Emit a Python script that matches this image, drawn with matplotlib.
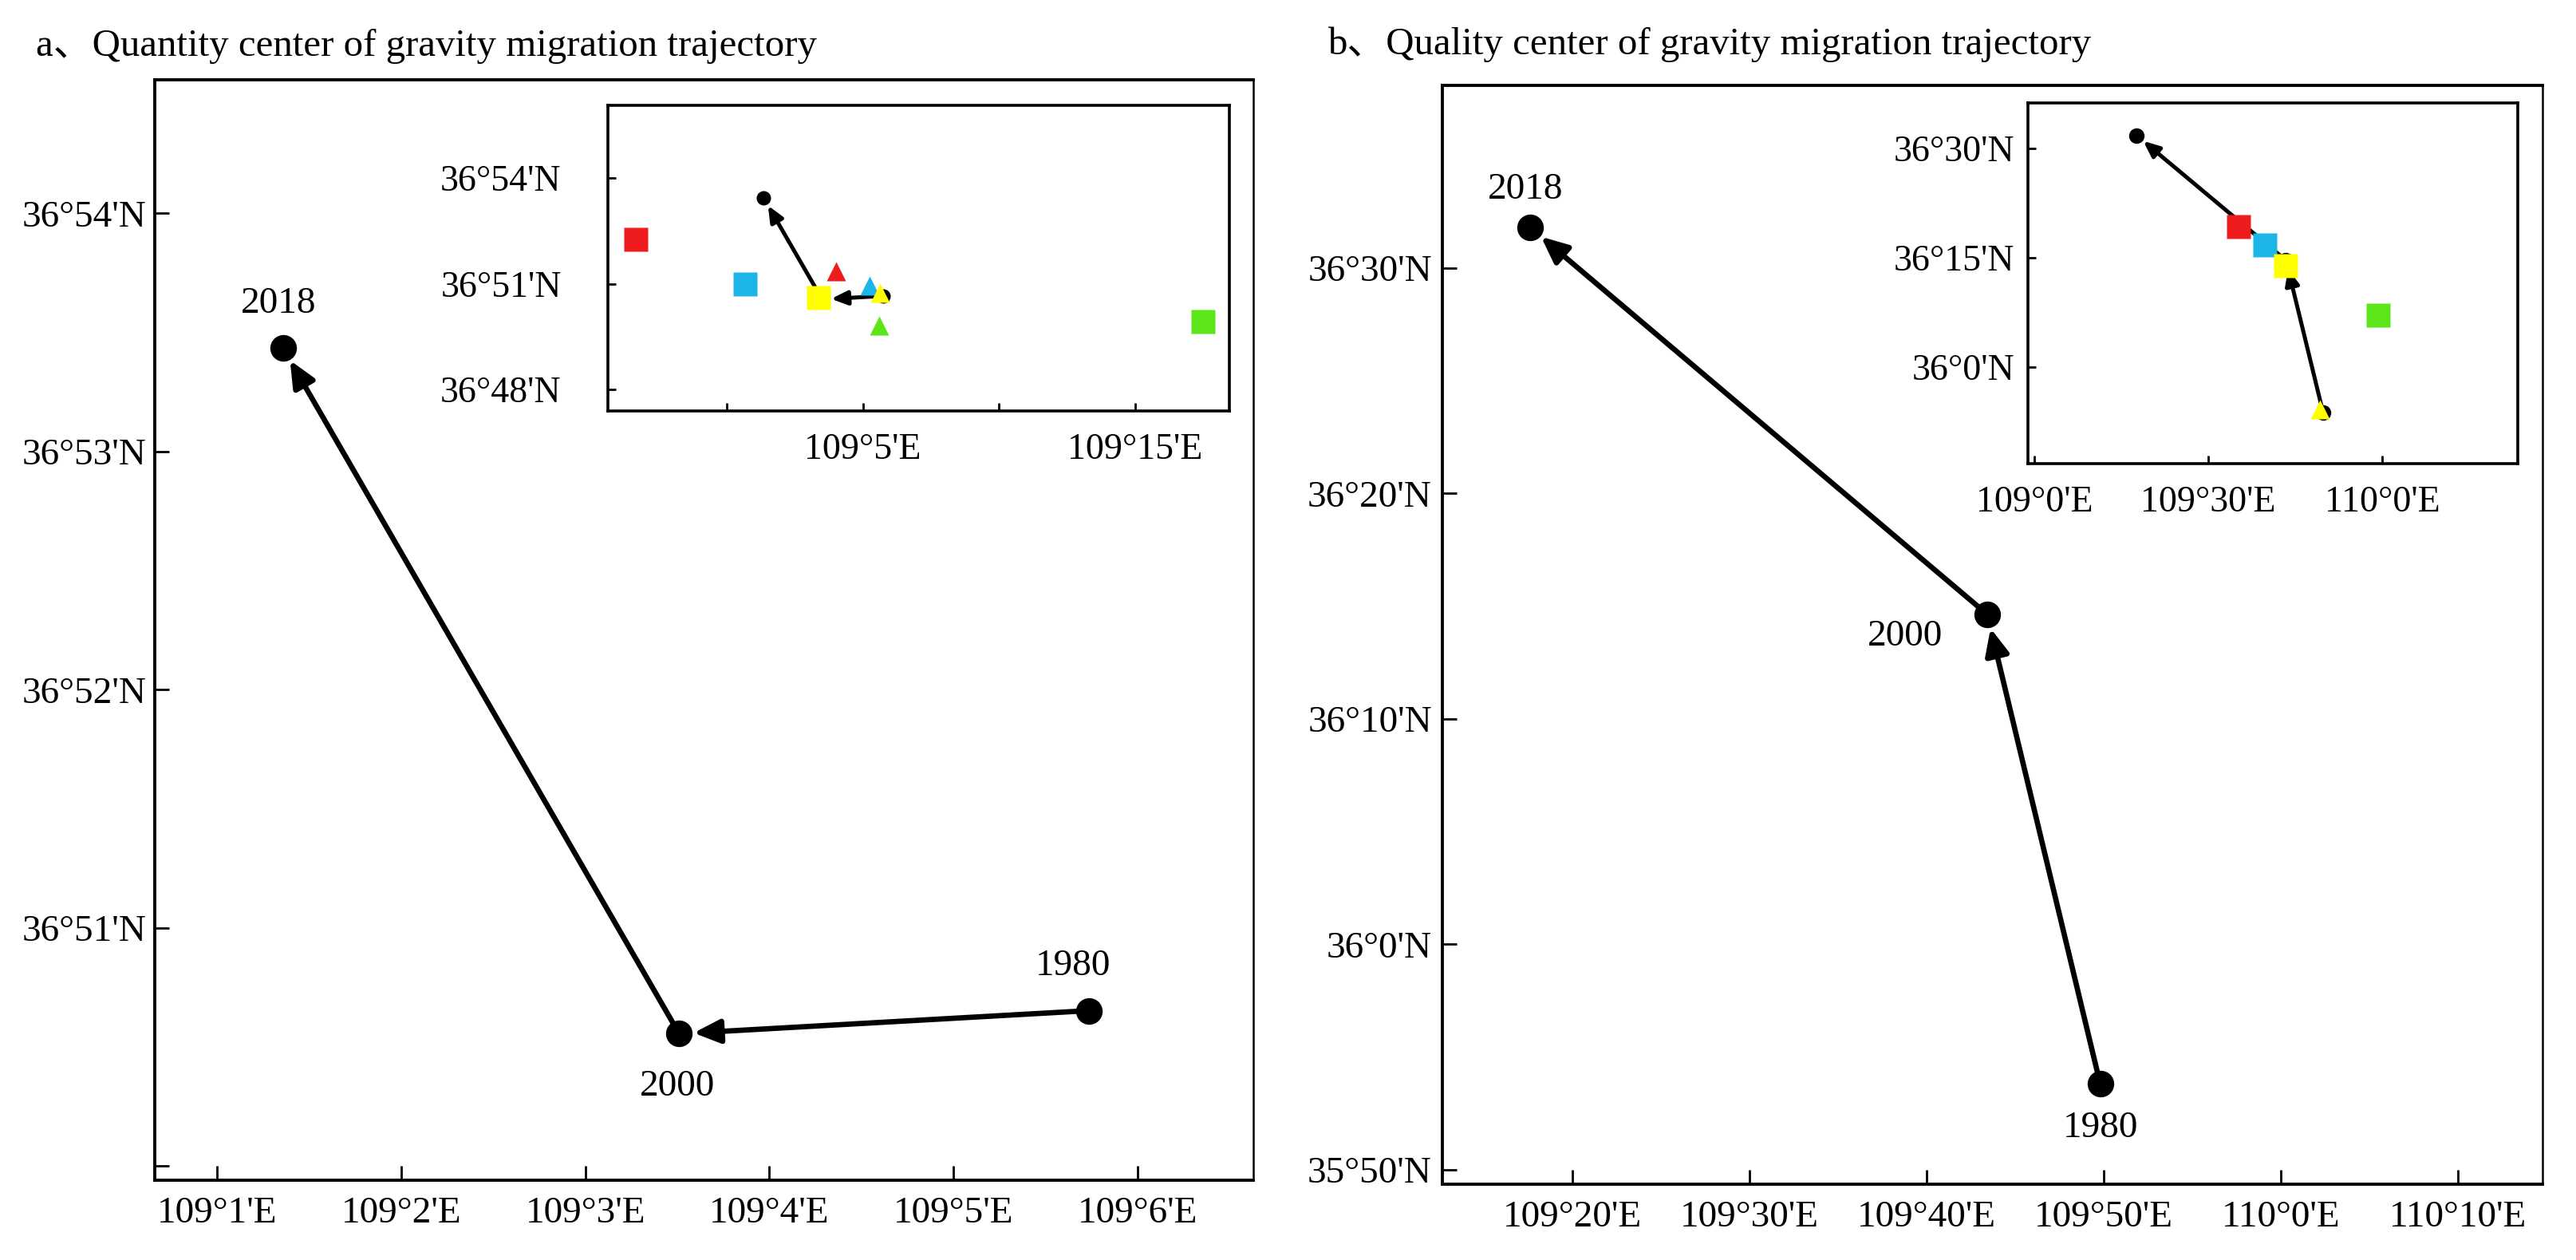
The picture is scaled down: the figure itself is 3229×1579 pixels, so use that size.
import matplotlib
matplotlib.use('Agg')
import matplotlib.pyplot as plt
from matplotlib.ticker import FixedLocator, FixedFormatter

plt.rcParams['font.family'] = ['Liberation Serif', 'Noto Sans CJK SC']


def dm(d, m):
    """degrees + minutes -> decimal degrees"""
    return d + m / 60.0


# ---------------- data ----------------
years = ['1980', '2000', '2018']

# a: quantity centre of gravity
qty_lon = [dm(109, 5.735), dm(109, 3.51), dm(109, 1.356)]
qty_lat = [dm(36, 50.652), dm(36, 50.555), dm(36, 53.435)]

# b: quality centre of gravity
qual_lon = [dm(109, 49.8), dm(109, 43.42), dm(109, 17.61)]
qual_lat = [dm(35, 53.81), dm(36, 14.64), dm(36, 31.8)]

# inset markers (red, blue, yellow, green)
marker_colors = ['#ee1c1c', '#1db4e8', '#ffff00', '#5ce619']
qty_sq_lon = [dm(108, 56.66), dm(109, 0.67), dm(109, 3.37), dm(109, 17.5)]
qty_sq_lat = [dm(36, 52.26), dm(36, 51.0), dm(36, 50.6), dm(36, 49.93)]
qty_tri_lon = [dm(109, 4.01), dm(109, 5.24), dm(109, 5.62), dm(109, 5.6)]
qty_tri_lat = [dm(36, 51.35), dm(36, 50.95), dm(36, 50.74), dm(36, 49.81)]

qual_sq_lon = [dm(109, 35.2), dm(109, 39.8), dm(109, 43.3), dm(109, 59.3)]
qual_sq_lat = [dm(36, 19.3), dm(36, 16.75), dm(36, 13.9), dm(36, 7.1)]
qual_tri_lon = [dm(109, 49.3)]
qual_tri_lat = [dm(35, 54.2)]
qual_tri_colors = ['#ffff00']

titles = ["a\u3001Quantity center of gravity migration trajectory",
          "b\u3001Quality center of gravity migration trajectory"]

# ---------------- helpers ----------------
def dms_label(v, hemi):
    d = int(v + 1e-9)
    m = int(round((v - d) * 60))
    if m == 60:
        d += 1
        m = 0
    return f"{d}\u00b0{m}'{hemi}"


def set_ticks(ax, xt, yt, xlab_show=None, ylab_show=None):
    xl = [dms_label(v, 'E') for v in xt]
    yl = [dms_label(v, 'N') for v in yt]
    if xlab_show is not None:
        xl = [l if s else '' for l, s in zip(xl, xlab_show)]
    if ylab_show is not None:
        yl = [l if s else '' for l, s in zip(yl, ylab_show)]
    ax.xaxis.set_major_locator(FixedLocator(xt))
    ax.xaxis.set_major_formatter(FixedFormatter(xl))
    ax.yaxis.set_major_locator(FixedLocator(yt))
    ax.yaxis.set_major_formatter(FixedFormatter(yl))


def arrow(ax, p0, p1, lw, hl, hw, shrink, z):
    ax.annotate('', xy=p1, xytext=p0,
                arrowprops=dict(arrowstyle=f'-|>,head_length={hl},head_width={hw}',
                                lw=lw, color='black', shrinkA=0, shrinkB=shrink,
                                mutation_scale=1),
                zorder=z)


def style_main(ax, xpad, ypad):
    for s in ['left', 'bottom', 'top']:
        ax.spines[s].set_linewidth(1.4)
    ax.spines['right'].set_linewidth(0.9)
    ax.tick_params(direction='in', length=6.5, width=1.0, labelsize=17)
    ax.tick_params(axis='x', pad=xpad)
    ax.tick_params(axis='y', pad=ypad)


def style_inset(ax, xpad, ypad):
    for s in ax.spines.values():
        s.set_linewidth(1.3)
    ax.tick_params(direction='in', length=3.6, width=1.0, labelsize=16.5)
    ax.tick_params(axis='x', pad=xpad)
    ax.tick_params(axis='y', pad=ypad)


def draw_traj(ax, lon, lat, ms, lw, hl, hw, shrink):
    ax.plot(lon, lat, 'o', color='black', ms=ms, mec='none', zorder=3)
    for i in range(len(lon) - 1):
        arrow(ax, (lon[i], lat[i]), (lon[i + 1], lat[i + 1]), lw, hl, hw, shrink, 2)


# ---------------- figure ----------------
W, H = 3230, 1579
fig = plt.figure(figsize=(W / 200, H / 200), dpi=200)


def rect(l, t, r, b):
    return [l / W, 1 - b / H, (r - l) / W, (b - t) / H]


# ----- panel a -----
axa = fig.add_axes(rect(194, 100, 1571, 1479))
axa.set_xlim(dm(109, 0.66), dm(109, 6.63))
axa.set_ylim(dm(36, 49.94), dm(36, 54.561))
draw_traj(axa, qty_lon, qty_lat, 12, 2.4, 10, 4.5, 6.5)
qty_offsets = [(-7, 20), (-1, -24), (-2, 20)]
for x, y, t, off in zip(qty_lon, qty_lat, years, qty_offsets):
    axa.annotate(t, (x, y), xytext=off, textcoords='offset points',
                 ha='center', va='center', fontsize=17)
set_ticks(axa, [dm(109, m) for m in range(1, 7)],
          [dm(36, m) for m in range(50, 55)],
          ylab_show=[False, True, True, True, True])
style_main(axa, 7.5, 3.6)

# inset a
ia = fig.add_axes(rect(762, 132, 1541, 515))
ia.set_xlim(dm(109, -4.36), dm(109, 18.46))
ia.set_ylim(dm(36, 47.39), dm(36, 56.06))
draw_traj(ia, qty_lon, qty_lat, 6.5, 1.8, 6, 2.6, 4)
for x, y, c in zip(qty_sq_lon, qty_sq_lat, marker_colors):
    ia.plot(x, y, 's', color=c, ms=10.5, mec='none', zorder=4)
for x, y, c in zip(qty_tri_lon, qty_tri_lat, marker_colors):
    ia.plot(x, y, '^', color=c, ms=8.5, mec='none', zorder=4)
set_ticks(ia, [dm(109, m) for m in (0, 5, 10, 15)],
          [dm(36, m) for m in (48, 51, 54)],
          xlab_show=[False, True, False, True])
style_inset(ia, 10, 21)

# ----- panel b -----
axb = fig.add_axes(rect(1808, 107, 3187, 1484))
axb.set_xlim(dm(109, 12.66), dm(110, 14.77))
axb.set_ylim(dm(35, 49.36), dm(36, 38.1))
draw_traj(axb, qual_lon, qual_lat, 12, 2.4, 10, 4.5, 6.5)
qual_offsets = [(0, -20), (-37, -10), (-2, 17)]
for x, y, t, off in zip(qual_lon, qual_lat, years, qual_offsets):
    axb.annotate(t, (x, y), xytext=off, textcoords='offset points',
                 ha='center', va='center', fontsize=17)
set_ticks(axb, [dm(109, m) for m in (20, 30, 40, 50)] + [dm(110, 0), dm(110, 10)],
          [dm(35, 50)] + [dm(36, m) for m in (0, 10, 20, 30)])
style_main(axb, 7.5, 4.7)

# inset b
ib = fig.add_axes(rect(2542, 129, 3156, 581))
ib.set_xlim(dm(109, -1.1), dm(110, 23.4))
ib.set_ylim(dm(35, 46.75), dm(36, 36.24))
draw_traj(ib, qual_lon, qual_lat, 7, 1.8, 6, 2.6, 4)
for x, y, c in zip(qual_sq_lon, qual_sq_lat, marker_colors):
    ib.plot(x, y, 's', color=c, ms=10.5, mec='none', zorder=4)
for x, y, c in zip(qual_tri_lon, qual_tri_lat, qual_tri_colors):
    ib.plot(x, y, '^', color=c, ms=8.5, mec='none', zorder=4)
set_ticks(ib, [dm(109, 0), dm(109, 30), dm(110, 0)],
          [dm(36, 0), dm(36, 15), dm(36, 30)])
style_inset(ib, 10, 6)

# titles
fig.text(45 / W, 1 - 70 / H, titles[0], fontsize=17.6, ha='left', va='baseline')
fig.text(1664 / W, 1 - 68 / H, titles[1], fontsize=17.6, ha='left', va='baseline')

fig.savefig('out.png', dpi=200, facecolor='white')
